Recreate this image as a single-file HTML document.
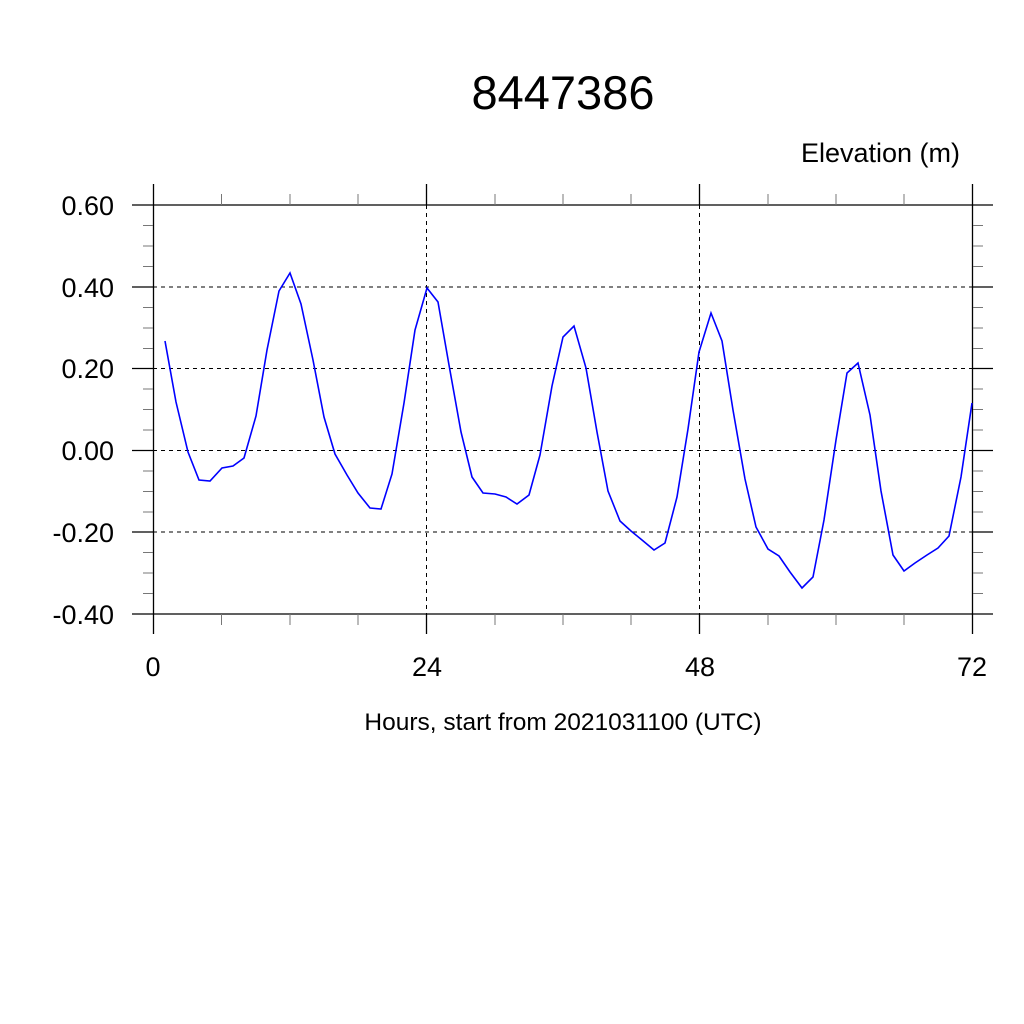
<!DOCTYPE html>
<html><head><style>html,body{margin:0;padding:0;background:#fff;}svg{display:block;}</style></head>
<body>
<svg width="1024" height="1024" viewBox="0 0 1024 1024" xmlns="http://www.w3.org/2000/svg" font-family="Liberation Sans, Arial, sans-serif">
<rect width="1024" height="1024" fill="#fff"/>
<text x="563" y="109" font-size="47" text-anchor="middle">8447386</text>
<text x="960" y="162" font-size="27" text-anchor="end">Elevation (m)</text>
<g stroke="#000" stroke-width="1" stroke-dasharray="4,4" fill="none">
<line x1="153" y1="287" x2="972" y2="287"/>
<line x1="153" y1="368.5" x2="972" y2="368.5"/>
<line x1="153" y1="450.5" x2="972" y2="450.5"/>
<line x1="153" y1="532" x2="972" y2="532"/>
<line x1="153" y1="205" x2="972" y2="205"/>
<line x1="153" y1="614" x2="972" y2="614"/>
<line x1="426.5" y1="205" x2="426.5" y2="614"/>
<line x1="699.5" y1="205" x2="699.5" y2="614"/>
</g>
<g stroke="#000" stroke-width="1.3">
<line x1="153.5" y1="184" x2="153.5" y2="634"/>
<line x1="972.5" y1="184" x2="972.5" y2="634"/>
<line x1="426.5" y1="184" x2="426.5" y2="205"/><line x1="426.5" y1="614" x2="426.5" y2="634"/>
<line x1="699.5" y1="184" x2="699.5" y2="205"/><line x1="699.5" y1="614" x2="699.5" y2="634"/>
<line x1="132" y1="205" x2="993" y2="205"/><line x1="132" y1="614" x2="993" y2="614"/>
<line x1="132" y1="287" x2="153" y2="287"/><line x1="972" y1="287" x2="993" y2="287"/>
<line x1="132" y1="368.5" x2="153" y2="368.5"/><line x1="972" y1="368.5" x2="993" y2="368.5"/>
<line x1="132" y1="450.5" x2="153" y2="450.5"/><line x1="972" y1="450.5" x2="993" y2="450.5"/>
<line x1="132" y1="532" x2="153" y2="532"/><line x1="972" y1="532" x2="993" y2="532"/>
</g>
<g stroke="#777" stroke-width="1">
<line x1="143" y1="225.5" x2="153" y2="225.5"/><line x1="143" y1="246" x2="153" y2="246"/><line x1="143" y1="266.5" x2="153" y2="266.5"/>
<line x1="143" y1="307.5" x2="153" y2="307.5"/><line x1="143" y1="328" x2="153" y2="328"/><line x1="143" y1="348.5" x2="153" y2="348.5"/>
<line x1="143" y1="389" x2="153" y2="389"/><line x1="143" y1="409.5" x2="153" y2="409.5"/><line x1="143" y1="430" x2="153" y2="430"/>
<line x1="143" y1="471" x2="153" y2="471"/><line x1="143" y1="491.5" x2="153" y2="491.5"/><line x1="143" y1="512" x2="153" y2="512"/>
<line x1="143" y1="552.5" x2="153" y2="552.5"/><line x1="143" y1="573" x2="153" y2="573"/><line x1="143" y1="593.5" x2="153" y2="593.5"/>
<line x1="973" y1="225.5" x2="983" y2="225.5"/><line x1="973" y1="246" x2="983" y2="246"/><line x1="973" y1="266.5" x2="983" y2="266.5"/>
<line x1="973" y1="307.5" x2="983" y2="307.5"/><line x1="973" y1="328" x2="983" y2="328"/><line x1="973" y1="348.5" x2="983" y2="348.5"/>
<line x1="973" y1="389" x2="983" y2="389"/><line x1="973" y1="409.5" x2="983" y2="409.5"/><line x1="973" y1="430" x2="983" y2="430"/>
<line x1="973" y1="471" x2="983" y2="471"/><line x1="973" y1="491.5" x2="983" y2="491.5"/><line x1="973" y1="512" x2="983" y2="512"/>
<line x1="973" y1="552.5" x2="983" y2="552.5"/><line x1="973" y1="573" x2="983" y2="573"/><line x1="973" y1="593.5" x2="983" y2="593.5"/>
<line x1="221.5" y1="194" x2="221.5" y2="205"/><line x1="290" y1="194" x2="290" y2="205"/><line x1="358" y1="194" x2="358" y2="205"/>
<line x1="495" y1="194" x2="495" y2="205"/><line x1="563" y1="194" x2="563" y2="205"/><line x1="631" y1="194" x2="631" y2="205"/>
<line x1="768" y1="194" x2="768" y2="205"/><line x1="836" y1="194" x2="836" y2="205"/><line x1="904" y1="194" x2="904" y2="205"/>
<line x1="221.5" y1="614" x2="221.5" y2="625"/><line x1="290" y1="614" x2="290" y2="625"/><line x1="358" y1="614" x2="358" y2="625"/>
<line x1="495" y1="614" x2="495" y2="625"/><line x1="563" y1="614" x2="563" y2="625"/><line x1="631" y1="614" x2="631" y2="625"/>
<line x1="768" y1="614" x2="768" y2="625"/><line x1="836" y1="614" x2="836" y2="625"/><line x1="904" y1="614" x2="904" y2="625"/>
</g>
<g font-size="27" text-anchor="end">
<text x="114" y="215">0.60</text><text x="114" y="297">0.40</text><text x="114" y="378">0.20</text>
<text x="114" y="460">0.00</text><text x="114" y="542">-0.20</text><text x="114" y="624">-0.40</text>
</g>
<g font-size="27" text-anchor="middle">
<text x="153" y="676">0</text><text x="427" y="676">24</text><text x="700" y="676">48</text><text x="972" y="676">72</text>
</g>
<text x="563" y="730" font-size="24.5" text-anchor="middle">Hours, start from 2021031100 (UTC)</text>
<polyline fill="none" stroke="#0000ff" stroke-width="1.6" points="165,341 176,402 188,452 199,480 210,481 222,468 233,466 244,458 256,416 267,350 279,291 290,273 301,304 313,360 324,417 335,454 347,475 358,493 370,508 381,509 392,474 404,403 415,330 427,288 438,302 449,365 461,432 472,477 483,493 495,494 506,497 517,504 529,495 540,455 552,386 563,337 574,326 586,368 597,432 608,491 620,521 631,531 642,540 654,550 665,543 677,497 688,429 699,352 711,313 722,341 733,410 745,479 756,527 768,549 779,556 790,572 802,588 813,577 824,520 836,440 847,373 858,363 870,415 881,491 893,555 904,571 915,563 927,555 938,548 949,536 961,477 972,403"/>
</svg>
</body></html>
